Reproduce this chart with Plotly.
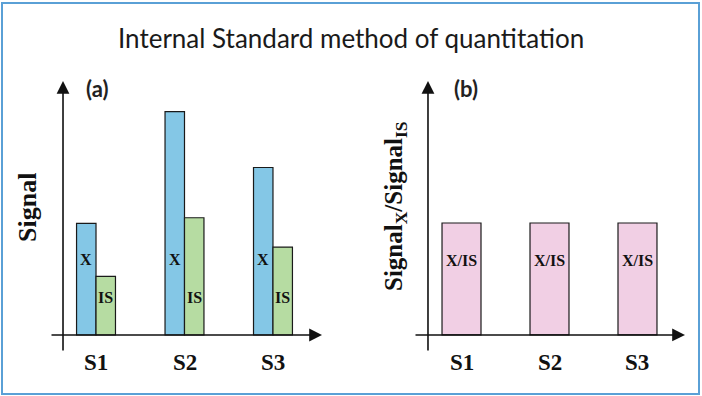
import plotly.graph_objects as go

categories = ["S1", "S2", "S3"]
signal_x = [4.0, 8.0, 6.0]
signal_is = [2.1, 4.2, 3.15]
ratio = [1.9, 1.9, 1.9]

W, H = 702, 396
pos = [1, 2, 3]

fig = go.Figure()
fig.add_trace(go.Bar(x=[p - 0.11 for p in pos], y=signal_x, width=0.22,
                     marker=dict(color="#84c7e6", line=dict(color="#1a1a1a", width=1.2)),
                     xaxis="x", yaxis="y", showlegend=False, hoverinfo="skip"))
fig.add_trace(go.Bar(x=[p + 0.11 for p in pos], y=signal_is, width=0.22,
                     marker=dict(color="#b6dca2", line=dict(color="#1a1a1a", width=1.2)),
                     xaxis="x", yaxis="y", showlegend=False, hoverinfo="skip"))
fig.add_trace(go.Bar(x=pos, y=ratio, width=0.443,
                     marker=dict(color="#f1cfe4", line=dict(color="#1a1a1a", width=1.2)),
                     xaxis="x2", yaxis="y2", showlegend=False, hoverinfo="skip"))

ydom = [1 - 352 / H, 1 - 81 / H]
xa_range = [0.48, 3.554]
ya_range = [-0.61, 9.1]
xb_range = [0.46, 3.54]
yb_range = [-0.289, 4.31]

ax_common = dict(visible=False, fixedrange=True)
fig.update_layout(
    width=W, height=H,
    margin=dict(l=0, r=0, t=0, b=0),
    paper_bgcolor="white", plot_bgcolor="white",
    xaxis=dict(domain=[50 / W, 322 / W], range=xa_range, **ax_common),
    yaxis=dict(domain=ydom, range=ya_range, **ax_common),
    xaxis2=dict(domain=[414 / W, 685 / W], range=xb_range, anchor="y2", **ax_common),
    yaxis2=dict(domain=ydom, range=yb_range, anchor="x2", **ax_common),
    barmode="overlay",
)

serif = "Liberation Serif"
ann = []


def txt(x, y, text, font, xref="paper", yref="paper", **kw):
    d = dict(x=x, y=y, xref=xref, yref=yref, text=text, showarrow=False,
             xanchor="center", yanchor="middle", font=font)
    d.update(kw)
    ann.append(d)


for xr, yr, yaxis_x, xref, yref in [(xa_range, ya_range, 0.627, "x", "y"),
                                     (xb_range, yb_range, 0.619, "x2", "y2")]:
    ann.append(dict(x=xr[1], y=0, ax=xr[0], ay=0, xref=xref, yref=yref, axref=xref, ayref=yref,
                    showarrow=True, arrowhead=2, arrowsize=1.6, arrowwidth=1.6, arrowcolor="#111", text=""))
    ann.append(dict(x=yaxis_x, y=yr[1], ax=yaxis_x, ay=yr[0], xref=xref, yref=yref, axref=xref, ayref=yref,
                    showarrow=True, arrowhead=2, arrowsize=1.6, arrowwidth=1.6, arrowcolor="#111", text=""))
    for p, c in zip(pos, categories):
        txt(p, 1 - 362 / H, "<b>%s</b>" % c, dict(family=serif, size=23, color="#111"), xref=xref)

for p in pos:
    txt(p - 0.11, 2.7, "<b>X</b>", dict(family=serif, size=16, color="#111"), xref="x", yref="y")
    txt(p + 0.11, 1.33, "<b>IS</b>", dict(family=serif, size=16, color="#111"), xref="x", yref="y")
    txt(p, 1.27, "<b>X/IS</b>", dict(family=serif, size=16, color="#111"), xref="x2", yref="y2")

txt(27 / W, 1 - 208 / H, "<b>Signal</b>", dict(family=serif, size=26, color="#111"), textangle=-90)
txt(395 / W, 1 - 206 / H, "<b>Signal<sub>X</sub>/Signal<sub>IS</sub></b>",
    dict(family=serif, size=25, color="#111"), textangle=-90)
txt(97 / W, 1 - 88 / H, "<b>(a)</b>", dict(family="Lato", size=22, color="#222"))
txt(466 / W, 1 - 88 / H, "<b>(b)</b>", dict(family="Lato", size=22, color="#222"))
txt(351 / W, 1 - 38 / H, "Internal Standard method of quantitation",
    dict(family="Lato", size=26, color="#1a1a1a"))
fig.update_layout(annotations=ann)

fig.add_shape(type="rect", xref="paper", yref="paper", x0=2 / W, x1=699 / W, y0=1 - 394 / H, y1=1 - 3 / H,
              line=dict(color="#5aa0d6", width=2), fillcolor="rgba(0,0,0,0)", layer="below")

fig.write_html("out.html", config={"displayModeBar": False},
               post_script="document.body.style.margin='0';document.body.style.overflow='hidden';")
